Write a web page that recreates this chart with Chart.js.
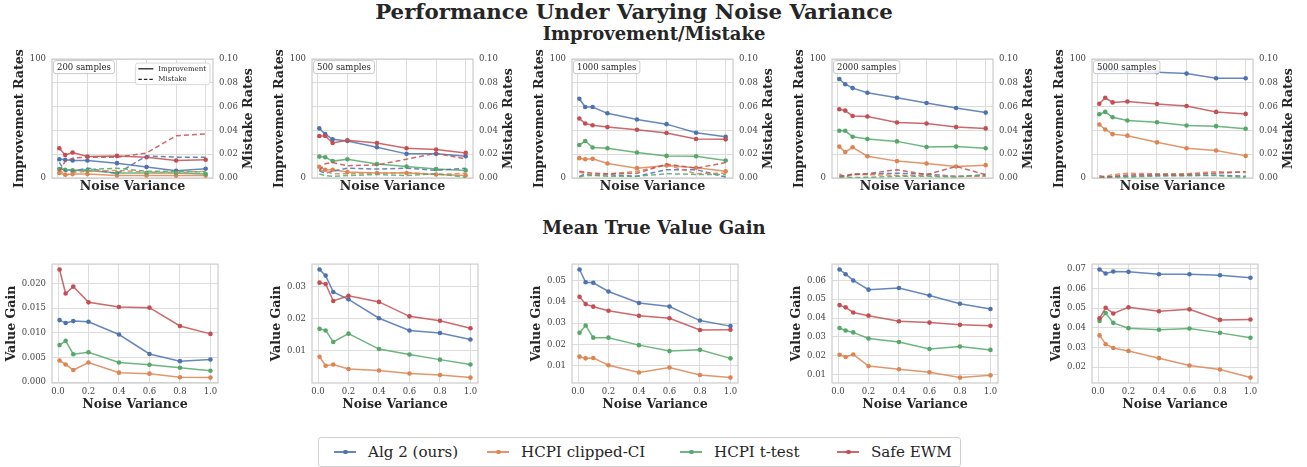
<!DOCTYPE html>
<html>
<head>
<meta charset="utf-8">
<script src="https://cdn.jsdelivr.net/npm/chart.js@4.4.1/dist/chart.umd.min.js"></script>
<style>
  body { margin: 0; background: #fff; width: 1307px; height: 467px; position: relative; overflow: hidden;
         font-family: 'DejaVu Serif', serif; color: #262626; }
  .ttl { position: absolute; font-weight: bold; white-space: nowrap; transform: translateX(-50%); }
  .panel { position: absolute; }
  canvas { display: block; }
  #legend { position: absolute; left: 318px; top: 437px; width: 643px; height: 30px; box-sizing: border-box;
            border: 1px solid #d0d0d0; border-radius: 3px; font-size: 15.1px; }
  #legend .item { position: absolute; top: 0; height: 28px; display: flex; align-items: center; white-space: nowrap; }
  #legend .sw { display: inline-block; width: 22px; height: 1.6px; position: relative; margin-right: 12px; }
  #legend .sw i { position: absolute; left: 9px; top: -1.5px; width: 4.5px; height: 4.5px; border-radius: 50%; }
</style>
</head>
<body>
<div class="ttl" style="left:634px;top:-2px;font-size:21.3px;line-height:27px">Performance Under Varying Noise Variance</div>
<div class="ttl" style="left:654px;top:22px;font-size:18px;line-height:24px">Improvement/Mistake</div>
<div class="ttl" style="left:654px;top:216px;font-size:18px;line-height:24px">Mean True Value Gain</div>
<div id="legend"></div>

<script>
const noise = [0.01, 0.05, 0.1, 0.2, 0.4, 0.6, 0.8, 1.0];
const methods = ['Alg 2 (ours)', 'HCPI clipped-CI', 'HCPI t-test', 'Safe EWM'];
const colors = ['#4C72B0', '#DD8452', '#55A868', '#C44E52'];
const sampleSizes = [200, 500, 1000, 2000, 5000];
const xTicks = [0, 0.2, 0.4, 0.6, 0.8, 1.0];

// rows: Alg 2, clipped-CI, t-test, Safe EWM
const improve200 = [
  [15.8, 15.3, 14.7, 14.7, 12.5, 9.2, 6.1, 7.8],
  [4.2, 2.8, 3.3, 3.3, 2.2, 2.2, 2.0, 2.0],
  [7.5, 7.0, 6.4, 6.4, 4.2, 4.2, 4.2, 3.3],
  [25.0, 19.4, 21.4, 18.0, 18.6, 17.5, 14.7, 15.3]
];
const mistake200 = [
  [0.013, 0.0056, 0.0056, 0.0083, 0.0036, 0.0186, 0.0175, 0.0175],
  [0.0075, 0.002, 0.0047, 0.0056, 0.0064, 0.005, 0.0047, 0.0056],
  [0.008, 0.007, 0.0064, 0.007, 0.0083, 0.0056, 0.0056, 0.005],
  [0.0056, 0.014, 0.0167, 0.0175, 0.0175, 0.021, 0.0356, 0.037]
];
const improve500 = [
  [41.7, 36.9, 32.5, 31.1, 25.8, 20.3, 20.3, 18.3],
  [9.4, 6.9, 6.9, 5.0, 4.2, 4.2, 3.0, 2.2],
  [18.0, 17.5, 14.2, 15.8, 11.7, 9.7, 7.5, 6.4],
  [35.3, 35.3, 29.4, 31.7, 29.4, 25.0, 23.9, 21.1]
];
const mistake500 = [
  [0.006, 0.004, 0.0056, 0.0083, 0.0075, 0.0083, 0.0064, 0.0083],
  [0.007, 0.0056, 0.0036, 0.0036, 0.004, 0.0047, 0.003, 0.004],
  [0.0033, 0.002, 0.0014, 0.002, 0.003, 0.002, 0.0036, 0.0006],
  [0.0064, 0.012, 0.013, 0.0103, 0.011, 0.0158, 0.0208, 0.016]
];
const improve1000 = [
  [66.7, 59.7, 59.7, 54.4, 49.2, 45.3, 38.0, 34.7],
  [16.7, 15.8, 16.1, 12.2, 8.3, 10.6, 8.6, 5.6],
  [27.8, 31.1, 25.6, 25.0, 21.4, 18.6, 18.3, 14.7],
  [50.0, 45.8, 44.4, 42.8, 40.6, 37.8, 32.8, 32.5]
];
const mistake1000 = [
  [0.0014, 0.0033, 0.0022, 0.0028, 0.0014, 0.007, 0.007, 0.0008],
  [0.0047, 0.004, 0.0028, 0.0033, 0.0056, 0.011, 0.0036, 0.004],
  [0.0008, 0.0022, 0.0022, 0.0014, 0.0014, 0.0036, 0.003, 0.0028],
  [0.0056, 0.005, 0.004, 0.0036, 0.004, 0.0117, 0.0083, 0.013]
];
const improve2000 = [
  [83.3, 78.9, 75.6, 71.7, 67.5, 63.1, 58.9, 55.0],
  [26.4, 21.9, 25.8, 18.3, 14.2, 12.2, 9.7, 10.8],
  [39.7, 39.7, 34.7, 32.8, 30.8, 26.1, 26.4, 25.0],
  [57.8, 56.7, 52.2, 51.7, 46.7, 45.8, 42.8, 41.7]
];
const mistake2000 = [
  [0.002, 0.0014, 0.0036, 0.0033, 0.004, 0.0033, 0.0014, 0.002],
  [0.0036, 0.0008, 0.003, 0.0028, 0.0022, 0.002, 0.0014, 0.0014],
  [0.0006, 0.0008, 0.0004, 0.0006, 0.0014, 0.0014, 0.0008, 0.003],
  [0.0014, 0.002, 0.0028, 0.0036, 0.007, 0.0028, 0.0097, 0.0028]
];
const improve5000 = [
  [92.0, 91.0, 91.0, 90.5, 88.9, 87.8, 83.9, 83.9],
  [45.0, 40.8, 36.9, 35.6, 30.0, 25.0, 23.1, 18.6],
  [53.6, 55.6, 51.1, 48.3, 46.9, 44.2, 43.6, 41.4],
  [62.5, 67.5, 63.6, 64.4, 62.2, 60.6, 55.6, 53.9]
];
const mistake5000 = [
  [0.0003, 0.0006, 0.001, 0.0014, 0.002, 0.002, 0.0025, 0.0014],
  [0.0008, 0.0014, 0.0028, 0.004, 0.0036, 0.0036, 0.0053, 0.0047],
  [0.0003, 0.0006, 0.0008, 0.0008, 0.0017, 0.002, 0.002, 0.0006],
  [0.002, 0.0008, 0.0014, 0.0025, 0.003, 0.003, 0.004, 0.0053]
];

const gain200 = [
  [0.0126, 0.0120, 0.0124, 0.01227, 0.00967, 0.00573, 0.00427, 0.0046],
  [0.0044, 0.0036, 0.00247, 0.0040, 0.00193, 0.00173, 0.0010, 0.00093],
  [0.00753, 0.0084, 0.00567, 0.00607, 0.0040, 0.00353, 0.00293, 0.00233],
  [0.02287, 0.0180, 0.0194, 0.0162, 0.01527, 0.01513, 0.0114, 0.0098]
];
const gain500 = [
  [0.0354, 0.0335, 0.0284, 0.0261, 0.0202, 0.0164, 0.0156, 0.0136],
  [0.0082, 0.0054, 0.0058, 0.0044, 0.0039, 0.0030, 0.0025, 0.0017],
  [0.0169, 0.0164, 0.0128, 0.0154, 0.0106, 0.0089, 0.0073, 0.0058],
  [0.0313, 0.0309, 0.0256, 0.0272, 0.0253, 0.0208, 0.0194, 0.0171]
];
const gain1000 = [
  [0.0551, 0.0491, 0.0489, 0.0448, 0.0394, 0.0378, 0.0312, 0.0286],
  [0.0143, 0.0135, 0.0137, 0.0103, 0.0069, 0.0092, 0.0057, 0.0045],
  [0.0255, 0.0289, 0.0232, 0.0232, 0.0197, 0.0169, 0.0175, 0.0135],
  [0.0423, 0.0389, 0.0377, 0.0358, 0.0334, 0.0323, 0.0268, 0.0269]
];
const gain2000 = [
  [0.0658, 0.0633, 0.0600, 0.0551, 0.0560, 0.0520, 0.0476, 0.0448],
  [0.0205, 0.0193, 0.0207, 0.0145, 0.0128, 0.0112, 0.0084, 0.0096],
  [0.0347, 0.0334, 0.0324, 0.0292, 0.0273, 0.0236, 0.0249, 0.0231],
  [0.0469, 0.0457, 0.0430, 0.0413, 0.0383, 0.0376, 0.0364, 0.0359]
];
const gain5000 = [
  [0.0697, 0.0677, 0.0687, 0.0685, 0.0673, 0.0673, 0.0668, 0.0655],
  [0.0361, 0.0316, 0.0297, 0.0282, 0.0245, 0.0208, 0.0187, 0.0146],
  [0.0435, 0.0475, 0.0425, 0.0398, 0.0390, 0.0396, 0.0374, 0.0349],
  [0.0448, 0.0502, 0.0473, 0.0504, 0.0484, 0.0494, 0.0440, 0.0442]
];

const improveTicks = [0, 100];
const mistakeTicks = [0, 0.02, 0.04, 0.06, 0.08, 0.10];
const gainTicks = [
  [0, 0.005, 0.010, 0.015, 0.020],
  [0.01, 0.02, 0.03],
  [0.01, 0.02, 0.03, 0.04, 0.05],
  [0.01, 0.02, 0.03, 0.04, 0.05, 0.06],
  [0.02, 0.03, 0.04, 0.05, 0.06, 0.07]
];
const gainDecimals = [3, 2, 2, 2, 2];

const improveRates = [improve200, improve500, improve1000, improve2000, improve5000];
const mistakeRates = [mistake200, mistake500, mistake1000, mistake2000, mistake5000];
const valueGains = [gain200, gain500, gain1000, gain2000, gain5000];

// ---- styling ----
const FONT = "'DejaVu Serif', serif";
const gridColor = '#dcdcdc';
const spineColor = '#cccccc';
const tickColor = '#444';
const labelColor = '#262626';
const tickFont = { family: FONT, size: 8.5 };
const labelFont = { family: FONT, size: 12.6, weight: 'bold', lineHeight: 1 };
const legendLeft = [15, 168, 361, 518];   // item offsets inside the shared legend box

const xSpan = Math.max(...noise) - Math.min(...noise);
const xMin = Math.min(...noise) - 0.05 * xSpan;
const xMax = Math.max(...noise) + 0.05 * xSpan;

const alpha = (hex, a) => {
  const n = parseInt(hex.slice(1), 16);
  return `rgba(${n >> 16},${(n >> 8) & 255},${n & 255},${a})`;
};
const setTicks = list => scale => { scale.ticks = list.map(v => ({ value: v })); };

// frame round the plot (all four spines)
const frame = {
  id: 'frame',
  beforeDatasetsDraw(chart) {
    const { ctx, chartArea: a } = chart;
    ctx.save();
    ctx.strokeStyle = spineColor;
    ctx.lineWidth = 1.2;
    ctx.strokeRect(a.left, a.top, a.right - a.left, a.bottom - a.top);
    ctx.restore();
  }
};

// right axis title, read bottom to top like the left one
const rightTitle = {
  id: 'rightTitle',
  afterDraw(chart) {
    const s = chart.scales.y1;
    if (!s) return;
    const { ctx, chartArea: a } = chart;
    ctx.save();
    ctx.font = `bold ${labelFont.size}px ${FONT}`;
    ctx.fillStyle = labelColor;
    ctx.textAlign = 'center';
    ctx.textBaseline = 'middle';
    ctx.translate(s.right - labelFont.size / 2, (a.top + a.bottom) / 2);
    ctx.rotate(-Math.PI / 2);
    ctx.fillText('Mistake Rates', 0, 0);
    ctx.restore();
  }
};

function roundRect(ctx, x, y, w, h, r) {
  ctx.beginPath();
  ctx.moveTo(x + r, y);
  ctx.arcTo(x + w, y, x + w, y + h, r);
  ctx.arcTo(x + w, y + h, x, y + h, r);
  ctx.arcTo(x, y + h, x, y, r);
  ctx.arcTo(x, y, x + w, y, r);
  ctx.closePath();
}

// "N samples" tag, and the line-style key in the first panel
const panelNote = {
  id: 'panelNote',
  afterDatasetsDraw(chart, args, opts) {
    if (!opts.text) return;
    const { ctx, chartArea: a } = chart;
    ctx.save();
    ctx.font = `8.5px ${FONT}`;
    const w = ctx.measureText(opts.text).width + 7;
    roundRect(ctx, a.left + 1.5, a.top + 1.5, w, 13, 2.5);
    ctx.fillStyle = 'rgba(255,255,255,0.85)';
    ctx.fill();
    ctx.strokeStyle = '#bdbdbd';
    ctx.lineWidth = 0.8;
    ctx.stroke();
    ctx.fillStyle = labelColor;
    ctx.textBaseline = 'middle';
    ctx.fillText(opts.text, a.left + 5, a.top + 8.5);

    if (opts.key) {
      ctx.font = `7px ${FONT}`;
      const tw = ctx.measureText('Improvement').width;
      const bw = tw + 27, bx = a.right - bw - 3, by = a.top + 4;
      roundRect(ctx, bx, by, bw, 21.5, 2.5);
      ctx.fillStyle = 'rgba(255,255,255,0.85)';
      ctx.fill();
      ctx.strokeStyle = '#cfcfcf';
      ctx.stroke();
      ctx.strokeStyle = '#222';
      ctx.lineWidth = 1.3;
      [['Improvement', [], 5.7], ['Mistake', [3.5, 2], 16.3]].forEach(([t, dash, dy]) => {
        ctx.setLineDash(dash);
        ctx.beginPath();
        ctx.moveTo(bx + 3, by + dy);
        ctx.lineTo(bx + 18, by + dy);
        ctx.stroke();
        ctx.fillStyle = labelColor;
        ctx.fillText(t, bx + 23, by + dy);
      });
      ctx.setLineDash([]);
    }
    ctx.restore();
  }
};

function solidSet(rows, k, axis, order) {
  return {
    data: noise.map((x, j) => ({ x, y: rows[k][j] })),
    yAxisID: axis,
    borderColor: alpha(colors[k], 0.85),
    backgroundColor: colors[k],
    pointBackgroundColor: colors[k],
    pointBorderWidth: 0,
    pointRadius: 2.3,
    borderWidth: 1.5,
    tension: 0,
    order
  };
}
function dashedSet(rows, k, order) {
  return {
    data: noise.map((x, j) => ({ x, y: rows[k][j] })),
    yAxisID: 'y1',
    borderColor: alpha(colors[k], 0.85),
    borderDash: [5, 3],
    pointRadius: 0,
    borderWidth: 1.5,
    tension: 0,
    order
  };
}

function xScale(showTicks) {
  return {
    type: 'linear', min: xMin, max: xMax,
    afterBuildTicks: setTicks(xTicks),
    grid: { color: gridColor, drawTicks: false, lineWidth: 1 },
    border: { display: false },
    ticks: { display: showTicks, font: tickFont, color: tickColor, padding: 4,
             callback: v => v.toFixed(1), maxRotation: 0 },
    title: { display: true, text: 'Noise Variance', font: labelFont, color: labelColor,
             padding: showTicks ? { top: -2.5, bottom: 0 } : { top: 2.5, bottom: 0 } }
  };
}

function yTitle(text, color) {
  return { display: true, text, font: labelFont, color, padding: { top: 0, bottom: -2 } };
}

function baseOptions() {
  return {
    responsive: false, maintainAspectRatio: false, animation: false,
    layout: { padding: 0 },
    plugins: { legend: { display: false }, tooltip: { enabled: false } }
  };
}

// place canvas, then shift layout padding so the plot area lands on the target box
function makeChart(left, top, w, h, target, config) {
  const div = document.createElement('div');
  div.className = 'panel';
  div.style.left = left + 'px';
  div.style.top = top + 'px';
  div.style.width = w + 'px';
  div.style.height = h + 'px';
  const cv = document.createElement('canvas');
  cv.width = w; cv.height = h;
  cv.style.width = w + 'px'; cv.style.height = h + 'px';
  div.appendChild(cv);
  document.body.appendChild(div);
  const chart = new Chart(cv, config);
  const a = chart.chartArea;
  const usedL = a.left, usedR = w - a.right, usedB = h - a.bottom;
  chart.options.layout.padding = {
    left: Math.max(0, target.l - usedL),
    right: Math.max(0, (w - target.r) - usedR),
    top: target.t,
    bottom: Math.max(0, (h - target.b) - usedB)
  };
  chart.update();
  return chart;
}

sampleSizes.forEach((n, i) => {
  const imp = improveRates[i], mis = mistakeRates[i];
  const datasets = [];
  methods.forEach((m, k) => datasets.push(solidSet(imp, k, 'y', 7 - k)));
  methods.forEach((m, k) => datasets.push(dashedSet(mis, k, 3 - k)));
  const opts = baseOptions();
  opts.plugins.panelNote = { text: `${n} samples`, key: i === 0 };
  opts.scales = {
    x: xScale(false),
    y: {
      position: 'left', min: 0, max: 100,
      afterBuildTicks: setTicks(improveTicks),
      grid: { display: false, drawTicks: false },
      border: { display: false },
      ticks: { font: tickFont, color: tickColor, padding: 6 },
      title: yTitle('Improvement Rates', labelColor)
    },
    y1: {
      position: 'right', min: 0, max: 0.1,
      afterBuildTicks: setTicks(mistakeTicks),
      grid: { color: gridColor, drawTicks: false, lineWidth: 1 },
      border: { display: false },
      ticks: { font: tickFont, color: tickColor, padding: 6, callback: v => v.toFixed(2) },
      title: yTitle('Mistake Rates', 'rgba(0,0,0,0)')
    }
  };
  makeChart(260 * i, 48, 260, 152, { l: 52, r: 213, t: 10, b: 130 }, {
    type: 'line',
    data: { datasets },
    options: opts,
    plugins: [frame, panelNote, rightTitle]
  });
});

sampleSizes.forEach((n, i) => {
  const g = valueGains[i];
  const all = g.flat();
  const lo = Math.min(...all), hi = Math.max(...all), pad = 0.05 * (hi - lo);
  const datasets = methods.map((m, k) => solidSet(g, k, 'y', 3 - k));
  const opts = baseOptions();
  opts.scales = {
    x: xScale(true),
    y: {
      position: 'left', min: lo - pad, max: hi + pad,
      afterBuildTicks: setTicks(gainTicks[i]),
      grid: { color: gridColor, drawTicks: false, lineWidth: 1 },
      border: { display: false },
      ticks: { font: tickFont, color: tickColor, padding: 6,
               callback: v => v.toFixed(gainDecimals[i]) },
      title: yTitle('Value Gain', labelColor)
    }
  };
  makeChart(260 * i, 253, 260, 165, { l: 52, r: 214, t: 10, b: 130 }, {
    type: 'line',
    data: { datasets },
    options: opts,
    plugins: [frame]
  });
});

// shared legend under the panels
const legend = document.getElementById('legend');
methods.forEach((m, k) => {
  const item = document.createElement('div');
  item.className = 'item';
  item.style.left = legendLeft[k] + 'px';
  item.innerHTML = `<span class="sw" style="background:${alpha(colors[k], 0.85)}"><i style="background:${colors[k]}"></i></span><span>${m}</span>`;
  legend.appendChild(item);
});
</script>
</body>
</html>
